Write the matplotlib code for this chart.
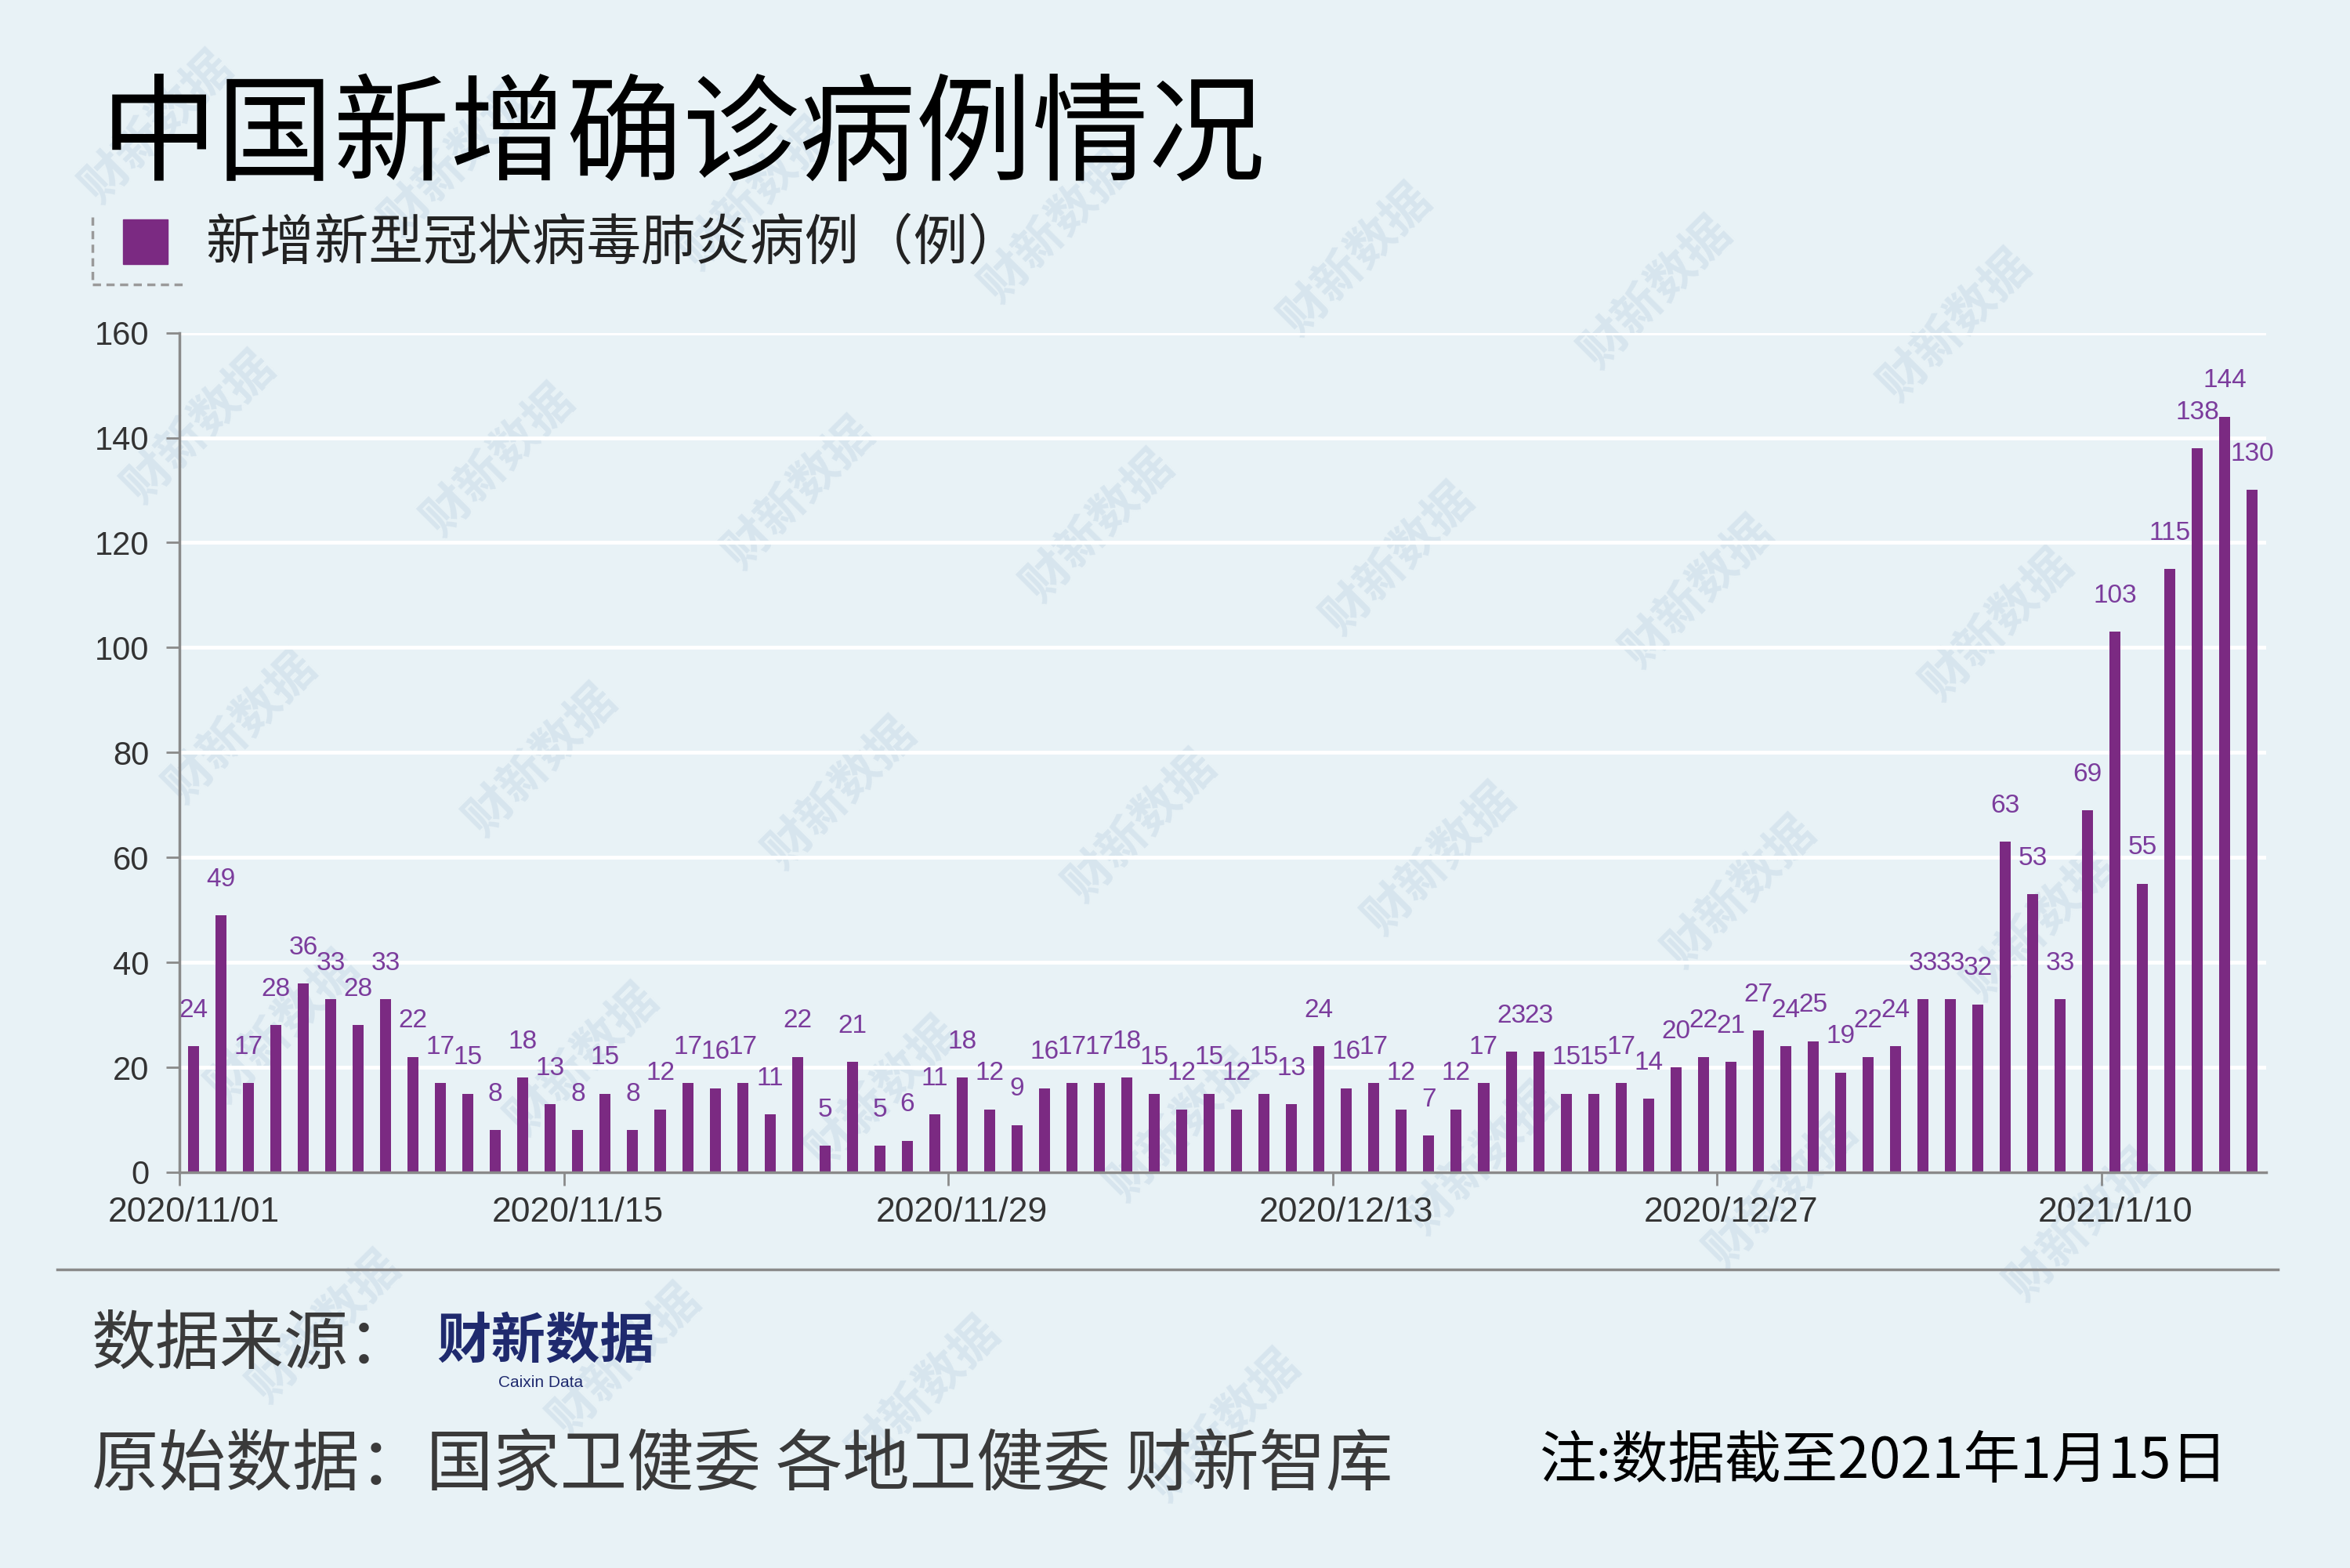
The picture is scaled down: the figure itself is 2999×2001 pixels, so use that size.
import matplotlib
matplotlib.use("Agg")
import matplotlib.pyplot as plt
from matplotlib.lines import Line2D
from matplotlib.patches import Rectangle
import numpy as np
import pandas as pd

# daily new confirmed cases, 2020/11/01 .. 2021/01/15
dates = pd.date_range("2020-11-01", "2021-01-15", freq="D")
cases = [24, 49, 17, 28, 36, 33, 28, 33, 22, 17,
         15, 8, 18, 13, 8, 15, 8, 12, 17, 16,
         17, 11, 22, 5, 21, 5, 6, 11, 18, 12,
         9, 16, 17, 17, 18, 15, 12, 15, 12, 15,
         13, 24, 16, 17, 12, 7, 12, 17, 23, 23,
         15, 15, 17, 14, 20, 22, 21, 27, 24, 25,
         19, 22, 24, 33, 33, 32, 63, 53, 33, 69,
         103, 55, 115, 138, 144, 130]
tick_idx = [0, 14, 28, 42, 56, 70]
tick_labels = ["2020/11/01", "2020/11/15", "2020/11/29",
               "2020/12/13", "2020/12/27", "2021/1/10"]
y_ticks = [0, 20, 40, 60, 80, 100, 120, 140, 160]

title = "中国新增确诊病例情况"
series_name = "新增新型冠状病毒肺炎病例（例）"
source_label = "数据来源："
source_logo = "财新数据"
raw_source = "原始数据：国家卫健委 各地卫健委 财新智库"
note = "注:数据截至2021年1月15日"

BG = "#E8F2F6"
BAR = "#7B2A82"
LBL = "#7B3C9C"
AXIS = "#8A8A8A"
NUM_FONT = ["Liberation Sans", "DejaVu Sans"]

plt.rcParams['font.family'] = ['Noto Sans CJK SC', 'DejaVu Sans']

fig = plt.figure(figsize=(29.99, 20.01), dpi=100, facecolor=BG)

# watermark layer (decoration only), kept behind the chart
for r in range(-1, 7):
    for c in range(-1, 9):
        px = 105 + c * 200 + r * 28
        py = 285 + c * 22 + r * 200 - 200
        fx = px / 1568
        fy = 1 - py / 1046
        if 0.06 < fx < 0.95 and 0.07 < fy < 0.93:
            fig.text(fx, fy, source_logo, rotation=45, fontsize=44,
                     fontweight="bold", color="#D7E5EE", ha="center",
                     va="center", zorder=-5)

ax = fig.add_axes([0.0765, 0.2524, 0.8878, 0.5354])
ax.set_facecolor("none")

x = np.arange(len(dates))
ax.bar(x, cases, width=0.4, color=BAR, zorder=3)

for xi, v in zip(x, cases):
    ax.annotate(str(v), (xi, v), xytext=(0, 33), textcoords="offset points",
                ha="center", va="center", fontsize=24, color=LBL,
                family=NUM_FONT, zorder=4)

ax.set_xlim(-0.5, len(dates) - 0.5)
ax.set_ylim(0, 160)
ax.set_yticks(y_ticks)
ax.set_yticklabels([str(t) for t in y_ticks], family=NUM_FONT)
ax.yaxis.grid(True, color="white", linewidth=3.5, zorder=1)
ax.set_axisbelow(True)

# ticks sit between categories, labels centred on the bar
ax.set_xticks([i - 0.5 for i in tick_idx])
ax.set_xticklabels([])
ax.set_xticks(tick_idx, minor=True)
ax.set_xticklabels(tick_labels, minor=True, family=NUM_FONT)
ax.tick_params(axis="x", which="major", length=12, width=2, color=AXIS,
               direction="out")
ax.tick_params(axis="x", which="minor", length=0, pad=22, labelsize=32,
               labelcolor="#333333")
ax.tick_params(axis="y", length=12, width=2, color=AXIS, pad=16,
               labelsize=30, labelcolor="#333333")

for s in ["top", "right"]:
    ax.spines[s].set_visible(False)
for s in ["left", "bottom"]:
    ax.spines[s].set_color(AXIS)
    ax.spines[s].set_linewidth(2.5)
    ax.spines[s].set_zorder(5)

# title
fig.text(0.043, 0.912, title, fontsize=107, color="black",
         ha="left", va="center", fontweight="medium")

# legend
fig.patches.append(Rectangle((157 / 2999, 1 - 337 / 2001), 57 / 2999, 57 / 2001,
                             transform=fig.transFigure, color=BAR))
fig.text(262 / 2999, 1 - 312 / 2001, series_name, fontsize=50,
         color="#222222", ha="left", va="center")
fig.lines.append(Line2D([118 / 2999, 118 / 2999], [1 - 277 / 2001, 1 - 363 / 2001],
                        transform=fig.transFigure, color="#9A9A9A",
                        linewidth=2.5, linestyle=(0, (3, 2))))
fig.lines.append(Line2D([118 / 2999, 235 / 2999], [1 - 363 / 2001, 1 - 363 / 2001],
                        transform=fig.transFigure, color="#9A9A9A",
                        linewidth=2.5, linestyle=(0, (3, 2))))

# footer
fig.lines.append(Line2D([73 / 2999, 2907 / 2999], [1 - 1620 / 2001, 1 - 1620 / 2001],
                        transform=fig.transFigure, color=AXIS, linewidth=2.5))
fig.text(117 / 2999, 1 - 1716 / 2001, source_label, fontsize=59,
         color="#3A3A3A", ha="left", va="center")
fig.text(696 / 2999, 1 - 1713 / 2001, source_logo, fontsize=50,
         color="#1F2A6E", ha="center", va="center", fontweight="bold")
fig.text(690 / 2999, 1 - 1765 / 2001, "Caixin Data", fontsize=15,
         color="#1F2A6E", ha="center", va="center", family=NUM_FONT)
fig.text(117 / 2999, 1 - 1870 / 2001, raw_source, fontsize=61.5,
         color="#3A3A3A", ha="left", va="center")
fig.text(2844 / 2999, 1 - 1866 / 2001, note, fontsize=52,
         color="black", ha="right", va="center")

fig.savefig("out.png", dpi=100, facecolor=BG)
